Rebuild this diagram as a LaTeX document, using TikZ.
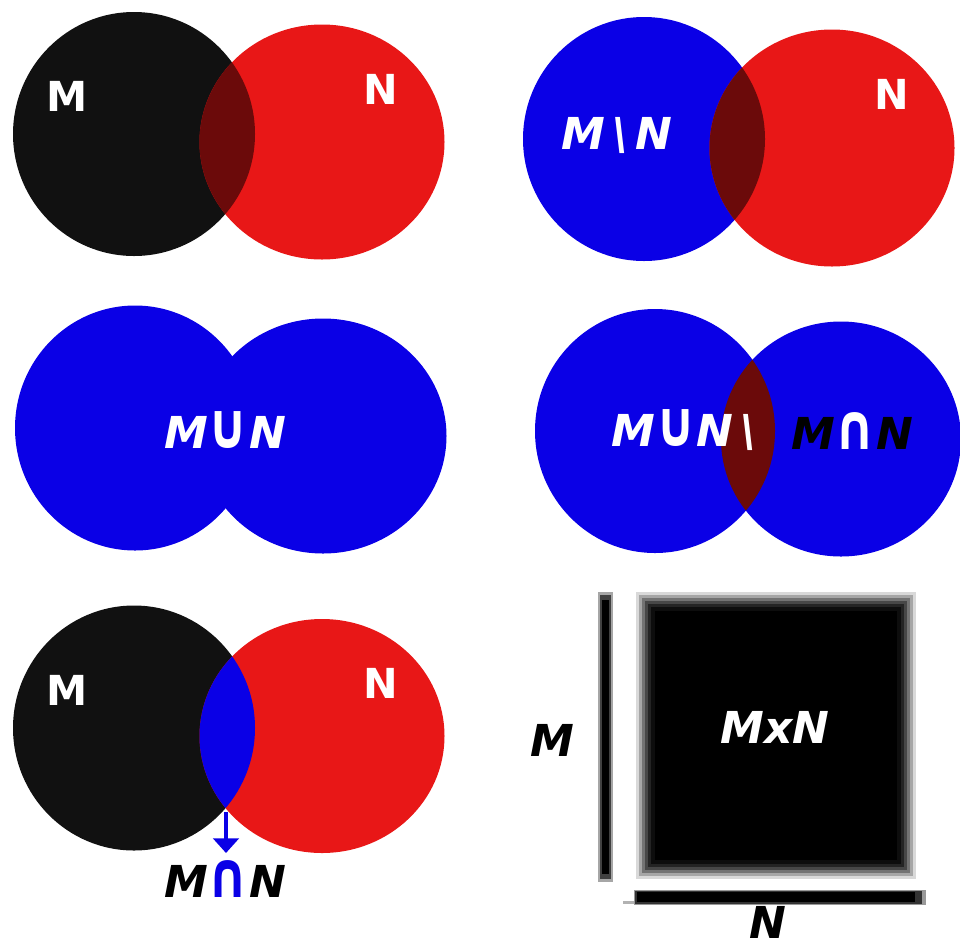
\documentclass[tikz,border=0pt]{standalone}
\usepackage{fontspec}
\setmainfont{DejaVu Sans}
\usetikzlibrary{arrows.meta}
\definecolor{cblack}{HTML}{111111}
\definecolor{cred}{HTML}{E81717}
\definecolor{cblue}{HTML}{0A00E6}
\definecolor{clens}{HTML}{6B0A0A}
\newcommand{\myunion}{\scalebox{1.15}[1.45]{∪}}
\newcommand{\myinter}{\scalebox{1.15}[1.45]{∩}}
\tikzset{
  lbl/.style={font=\fontsize{31}{38}\selectfont\bfseries, text=white, inner sep=0pt},
  ilbl/.style={font=\fontsize{33}{40}\selectfont\bfseries\itshape, inner sep=0pt},
}
\begin{document}
\begin{tikzpicture}[x=0.75pt,y=-0.75pt]
\useasboundingbox (0,0) rectangle (960,947);
% ---------- Panel 1 ----------
\fill[cblack] (134,134) ellipse [x radius=121, y radius=122];
\fill[cred] (322,142) ellipse [x radius=122.5, y radius=117.5];
\begin{scope}
  \clip (134,134) ellipse [x radius=121, y radius=122];
  \fill[clens] (322,142) ellipse [x radius=122.5, y radius=117.5];
\end{scope}
\node[lbl] (m1) at (67,96) {M};
\node[lbl] (n1) at (381,89) {N};
% ---------- Panel 2 ----------
\fill[cblue] (644,139) ellipse [x radius=121, y radius=122];
\fill[cred] (832,148) ellipse [x radius=122.5, y radius=118.5];
\begin{scope}
  \clip (644,139) ellipse [x radius=121, y radius=122];
  \fill[clens] (832,148) ellipse [x radius=122.5, y radius=118.5];
\end{scope}
\node[ilbl, text=white] (d2) at (617,135) {M\,\textbackslash\,N};
\node[lbl] (n2) at (892,94) {N};
% ---------- Panel 3 ----------
\fill[cblue] (135,428) ellipse [x radius=120, y radius=122.5];
\fill[cblue] (323,436) ellipse [x radius=123.5, y radius=117.5];
\node[ilbl, text=white] (u3) at (225,430) {M\myunion N};
% ---------- Panel 4 ----------
\fill[cblue] (655,431) ellipse [x radius=120, y radius=122];
\fill[cblue] (841,439) ellipse [x radius=120, y radius=117.5];
\begin{scope}
  \clip (655,431) ellipse [x radius=120, y radius=122];
  \fill[clens] (841,439) ellipse [x radius=120, y radius=117.5];
\end{scope}
\node[ilbl, text=white] (u4) at (684,430) {M\myunion N\,\textbackslash};
\node[ilbl, text=black] (i4) at (852,431) {M\textcolor{white}{\myinter}N};
% ---------- Panel 5 ----------
\fill[cblack] (134,728) ellipse [x radius=121, y radius=122.5];
\fill[cred] (322,736) ellipse [x radius=122.5, y radius=117];
\begin{scope}
  \clip (134,728) ellipse [x radius=121, y radius=122.5];
  \fill[cblue] (322,736) ellipse [x radius=122.5, y radius=117];
\end{scope}
\node[lbl] (m5) at (67,690) {M};
\node[lbl] (n5) at (381,683) {N};
\node[ilbl, text=black] (i5) at (225,879) {M\textcolor{cblue}{\myinter}N};
\coordinate (lb) at (226,812);
\coordinate (le) at (226,853);
\draw[cblue, line width=3.5pt, -{Triangle[width=19pt,length=11pt]}] (lb) -- (le);
% ---------- Panel 6 ----------
\fill[black!15] (636,592) rectangle (916,879);
\fill[black!35] (639,595) rectangle (913,876);
\fill[black!55] (642,598) rectangle (910,873);
\fill[black!72] (645,601) rectangle (907,870);
\fill[black!86] (648,604) rectangle (904,867);
\fill[black!95] (651,607) rectangle (901,864);
\fill[black] (655,611) rectangle (897,860);
\node[ilbl, text=white] (p6) at (775,727) {MxN};
% vertical bar
\fill[black!35] (598,592) rectangle (613,882);
\fill[black!75] (600,595) rectangle (611,879);
\fill[black] (602,600) rectangle (609,874);
% horizontal bar
\fill[black!30] (623,901) rectangle (636,904);
\fill[black!40] (634,890) rectangle (926,905);
\fill[black!80] (635,891) rectangle (922,904);
\fill[black] (637,892) rectangle (915,902);
\node[ilbl, text=black] (m6) at (552,740) {M};
\node[ilbl, text=black] (n6) at (768,922) {N};
\end{tikzpicture}
\end{document}
